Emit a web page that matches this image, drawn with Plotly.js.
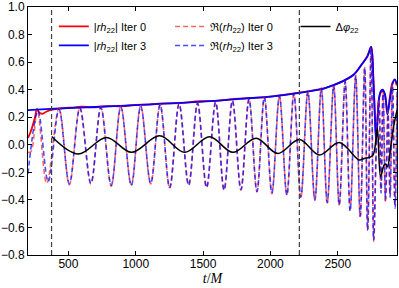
<!DOCTYPE html>
<html>
<head>
<meta charset="utf-8">
<script src="https://cdn.plot.ly/plotly-3.0.1.min.js"></script>
<style>html,body{margin:0;padding:0;background:#fff;}#chart{width:399px;height:288px;}</style>
</head>
<body>
<div id="chart"></div>
<script>
// |rh22| Iter 0 (red solid)
const absT0 = [200, 222, 252, 267, 282, 305, 335, 380, 430, 520, 600, 680, 790, 900, 1000, 1100, 1200, 1330, 1474, 1600, 1700, 1800, 1900, 2000, 2100, 2215, 2330, 2400, 2470, 2535, 2620, 2683, 2720, 2748, 2765, 2775, 2785, 2807, 2820, 2832, 2850, 2869, 2889, 2906, 2924, 2938];
const absV0 = [0.05, 0.10, 0.20, 0.26, 0.235, 0.225, 0.24, 0.255, 0.262, 0.27, 0.276, 0.272, 0.28, 0.28, 0.29, 0.292, 0.30, 0.302, 0.316, 0.318, 0.33, 0.336, 0.342, 0.35, 0.362, 0.378, 0.397, 0.41, 0.434, 0.46, 0.51, 0.59, 0.645, 0.71, 0.47, 0.24, 0.05, 0.34, 0.38, 0.39, 0.36, 0.24, 0.36, 0.45, 0.47, 0.43];
// |rh22| Iter 3 (blue solid)
const absT3 = [200, 400, 733, 1000, 1474, 1800, 2000, 2215, 2400, 2535, 2620, 2683, 2720, 2748, 2765, 2775, 2785, 2807, 2820, 2832, 2850, 2869, 2889, 2906, 2924, 2938];
const absV3 = [0.252, 0.262, 0.276, 0.288, 0.312, 0.335, 0.35, 0.377, 0.41, 0.46, 0.51, 0.59, 0.64, 0.71, 0.46, 0.22, 0.03, 0.34, 0.39, 0.40, 0.37, 0.22, 0.34, 0.44, 0.475, 0.44];
// Re(rh22) Iter 0 (red dashed) - extrema
const reT0 = [200, 222, 269, 339, 430, 507, 585, 667, 741, 818, 889, 967, 1037, 1111, 1181, 1252, 1322, 1393, 1459, 1526, 1593, 1656, 1718, 1781, 1841, 1900, 1955, 2011, 2067, 2122, 2174, 2226, 2278, 2330, 2378, 2422, 2470, 2511, 2555, 2592, 2633, 2667, 2700, 2722, 2748, 2767, 2789, 2805, 2820, 2836, 2853, 2872, 2888, 2905, 2924, 2940];
const reV0 = [-0.055, -0.05, 0.25, -0.28, 0.265, -0.29, 0.27, -0.285, 0.275, -0.30, 0.28, -0.29, 0.285, -0.285, 0.29, -0.315, 0.30, -0.29, 0.305, -0.31, 0.31, -0.325, 0.32, -0.33, 0.335, -0.34, 0.345, -0.355, 0.355, -0.36, 0.37, -0.385, 0.385, -0.40, 0.41, -0.425, 0.43, -0.44, 0.46, -0.47, 0.50, -0.53, 0.56, -0.62, 0.71, -0.70, 0.08, 0.32, -0.33, 0.38, -0.42, 0.25, -0.36, 0.44, -0.44, 0.38];
// Re(rh22) Iter 3 (blue dashed) - extrema
const reT3 = [200, 274, 350, 430, 507, 585, 667, 741, 818, 889, 967, 1037, 1111, 1181, 1252, 1322, 1393, 1459, 1526, 1593, 1656, 1718, 1781, 1841, 1900, 1955, 2011, 2067, 2122, 2174, 2226, 2278, 2330, 2378, 2422, 2470, 2511, 2555, 2592, 2633, 2667, 2700, 2722, 2748, 2767, 2789, 2807, 2822, 2837, 2855, 2874, 2889, 2907, 2926, 2941];
const reV3 = [-0.21, 0.245, -0.267, 0.257, -0.283, 0.265, -0.28, 0.27, -0.295, 0.275, -0.295, 0.28, -0.28, 0.29, -0.31, 0.295, -0.295, 0.30, -0.31, 0.31, -0.33, 0.32, -0.325, 0.33, -0.34, 0.345, -0.35, 0.355, -0.365, 0.37, -0.38, 0.385, -0.40, 0.41, -0.42, 0.43, -0.435, 0.46, -0.48, 0.50, -0.52, 0.56, -0.62, 0.71, -0.69, 0.05, 0.30, -0.35, 0.40, -0.40, 0.22, -0.38, 0.42, -0.46, 0.40];
// Delta phi22 (black)
const dphiT = [376, 573, 783, 968, 1178, 1363, 1548, 1721, 1894, 2054, 2215, 2363, 2511, 2659, 2696, 2758, 2783, 2795, 2818, 2843, 2855, 2869, 2894, 2918, 2940];
const dphiV = [0.06, -0.067, 0.053, -0.055, 0.065, -0.055, 0.058, -0.055, 0.048, -0.063, 0.038, -0.074, 0.017, -0.11, -0.10, -0.08, 0.03, 0.12, -0.23, -0.15, -0.14, -0.16, -0.01, 0.15, 0.25];
// vertical marker times
const markerTimes = [375, 2215];
const xTicks = [500, 1000, 1500, 2000, 2500];
const yTicks = [-0.8, -0.6, -0.4, -0.2, 0.0, 0.2, 0.4, 0.6, 0.8, 1.0];

const dash = '5px,3px';
const traces = [
  {x: absT0, y: absV0, mode: 'lines', name: '|<i>rh</i><sub>22</sub>| Iter 0', line: {color: '#ff0000', width: 1.8, shape: 'spline'}, legend: 'legend'},
  {x: absT3, y: absV3, mode: 'lines', name: '|<i>rh</i><sub>22</sub>| Iter 3', line: {color: '#0000ff', width: 1.8, shape: 'spline'}, legend: 'legend'},
  {x: reT0, y: reV0, mode: 'lines', name: 'ℜ(<i>rh</i><sub>22</sub>) Iter 0', line: {color: 'rgba(255,40,40,0.7)', width: 1.6, dash: dash, shape: 'spline'}, legend: 'legend2'},
  {x: reT3, y: reV3, mode: 'lines', name: 'ℜ(<i>rh</i><sub>22</sub>) Iter 3', line: {color: 'rgba(0,0,255,0.7)', width: 1.6, dash: dash, shape: 'spline'}, legend: 'legend2'},
  {x: dphiT, y: dphiV, mode: 'lines', name: 'Δ<i>φ</i><sub>22</sub>', line: {color: '#000000', width: 1.5, shape: 'spline'}, legend: 'legend3'}
];

const legFont = {family: 'Liberation Sans, Arial, sans-serif', size: 11, color: '#000'};
const legBase = {bgcolor: 'rgba(0,0,0,0)', borderwidth: 0, font: legFont, yanchor: 'top', xanchor: 'left', y: 0.98, tracegroupgap: 0, traceorder: 'normal'};

const layout = {
  width: 399, height: 288,
  margin: {l: 28, r: 2, t: 7, b: 33},
  paper_bgcolor: '#fff', plot_bgcolor: '#fff',
  font: {family: 'Liberation Sans, Arial, sans-serif', size: 12, color: '#000'},
  showlegend: true,
  legend: Object.assign({}, legBase, {x: 0.07}),
  legend2: Object.assign({}, legBase, {x: 0.385}),
  legend3: Object.assign({}, legBase, {x: 0.725}),
  xaxis: {
    range: [200, 2940], tickvals: xTicks, ticks: 'inside', ticklen: 4, tickcolor: '#000', ticklabelstandoff: -2,
    showline: true, linecolor: '#000', linewidth: 1, mirror: 'ticks', showgrid: false, zeroline: false,
    title: {text: '<i>t</i>/<i>M</i>', font: {family: 'Liberation Serif, serif', size: 14}, standoff: 2}
  },
  yaxis: {
    range: [-0.8, 1.0], tickvals: yTicks, tickformat: '.1f', ticks: 'inside', ticklen: 4, tickcolor: '#000',
    ticklabeloverflow: 'allow',
    showline: true, linecolor: '#000', linewidth: 1, mirror: 'ticks', showgrid: false, zeroline: false
  },
  shapes: markerTimes.map(t => ({type: 'line', xref: 'x', yref: 'paper', x0: t, x1: t, y0: 0, y1: 1,
    line: {color: '#404040', width: 1.2, dash: '5px,3px'}}))
};

Plotly.newPlot('chart', traces, layout, {staticPlot: true, displayModeBar: false});
</script>
</body>
</html>
